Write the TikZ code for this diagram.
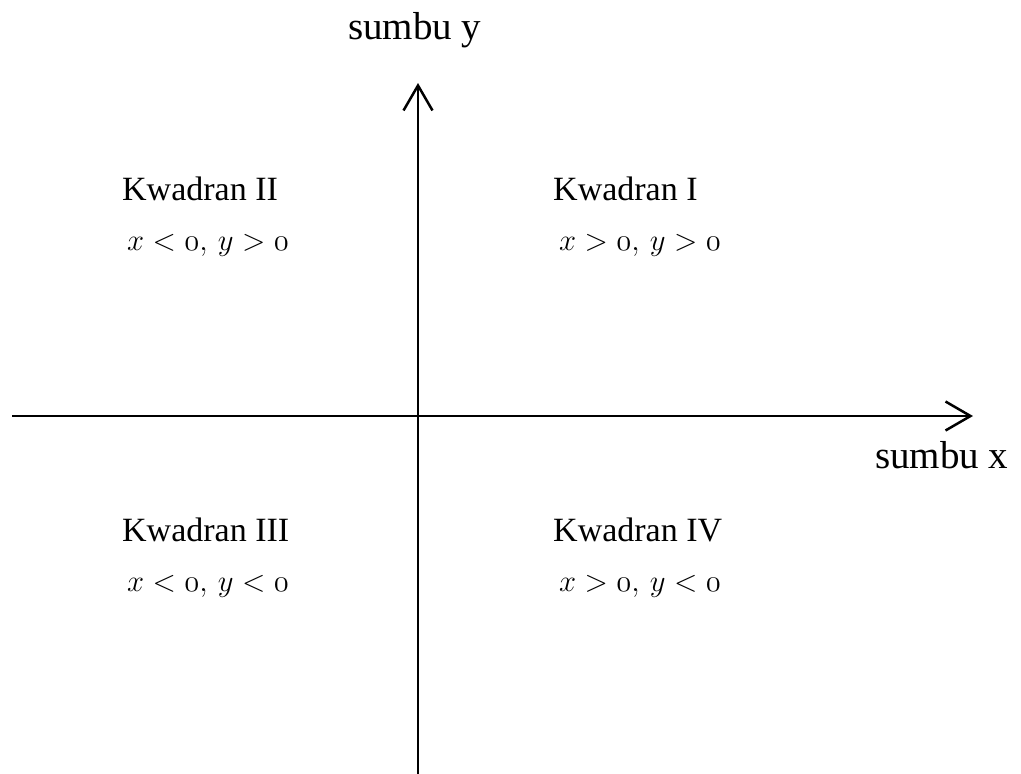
\documentclass[tikz,border=0pt]{standalone}
\usepackage{fontspec}
\setmainfont{Liberation Serif}
\usetikzlibrary{arrows.meta}
\tikzset{
  axis/.style={line width=2.5pt, -{Straight Barb[length=25pt,width=29pt,line width=2.5pt]}},
  axislabel/.style={anchor=base west, inner sep=0pt, font=\fontsize{39}{44}\selectfont},
  quadname/.style={anchor=base west, inner sep=0pt, font=\fontsize{34}{40}\selectfont},
  quadcond/.style={anchor=base west, inner sep=0pt, font=\fontsize{24.88}{30}\selectfont},
}
\newcommand{\zr}{\mathnormal{0}}
\newcommand{\cond}[1]{\scalebox{1.23}{$#1$}}
\begin{document}
\begin{tikzpicture}[x=1pt,y=-1pt]
\useasboundingbox (0,0) rectangle (1021,774);
\coordinate (ybot) at (418,774);
\coordinate (ytop) at (418,83);
\coordinate (xleft) at (12,416);
\coordinate (xright) at (973,416);
\draw[axis] (ybot) -- (ytop);
\draw[axis] (xleft) -- (xright);
\node[axislabel] (ly) at (348,39) {sumbu y};
\node[axislabel] (lx) at (875,468) {sumbu x};
\node[quadname] (q2) at (122,200) {Kwadran II};
\node[quadcond] (c2) at (127,250) {\cond{x < \zr,\, y > \zr}};
\node[quadname] (q1) at (553,200) {Kwadran I};
\node[quadcond] (c1) at (559,250) {\cond{x > \zr,\, y > \zr}};
\node[quadname] (q3) at (122,541) {Kwadran III};
\node[quadcond] (c3) at (127,591) {\cond{x < \zr,\, y < \zr}};
\node[quadname] (q4) at (553,541) {Kwadran IV};
\node[quadcond] (c4) at (559,591) {\cond{x > \zr,\, y < \zr}};
\end{tikzpicture}
\end{document}
